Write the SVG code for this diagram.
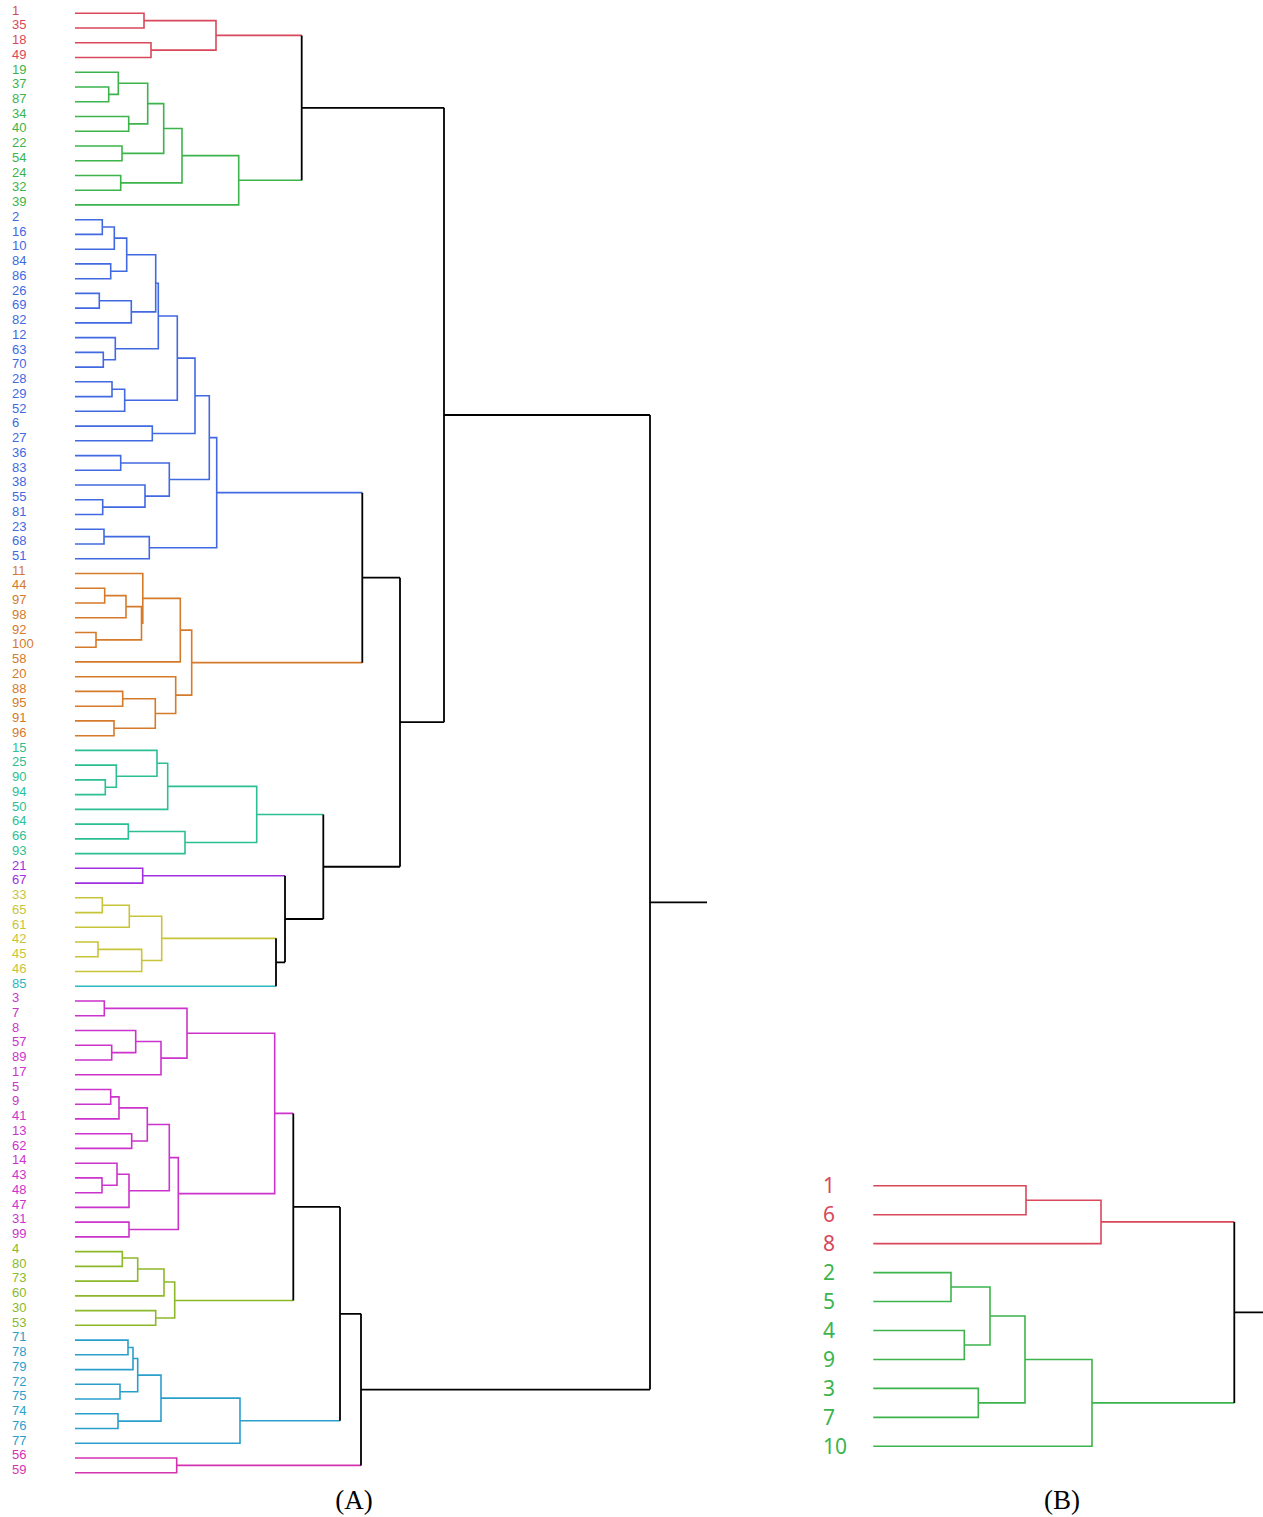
<svg xmlns="http://www.w3.org/2000/svg" width="1263" height="1517" viewBox="0 0 1263 1517">
<style>
.e{fill:none;stroke-width:1.6;stroke-linejoin:miter;stroke-linecap:butt}
.k{stroke:#000;stroke-width:1.8}
.t{font-family:"Liberation Sans",Arial,sans-serif;font-size:13px}
.tb{font-family:"Noto Sans","Open Sans","DejaVu Sans",sans-serif;font-size:21px}
.cap{font-family:"Liberation Serif","Times New Roman",serif;font-size:27px;fill:#000;text-anchor:middle}
.red{stroke:#d9475a}.fred{fill:#d9475a}
.grn{stroke:#3cb44b}.fgrn{fill:#3cb44b}
.blu{stroke:#4169e1}.fblu{fill:#4169e1}
.org{stroke:#d57a2a}.forg{fill:#d57a2a}
.tea{stroke:#2bbf93}.ftea{fill:#2bbf93}
.pur{stroke:#a030e0}.fpur{fill:#a030e0}
.yel{stroke:#c8c43a}.fyel{fill:#c8c43a}
.cya{stroke:#2bb8c0}.fcya{fill:#2bb8c0}
.mag{stroke:#cc33cc}.fmag{fill:#cc33cc}
.lim{stroke:#8db82a}.flim{fill:#8db82a}
.sky{stroke:#2a9fcc}.fsky{fill:#2a9fcc}
.pnk{stroke:#d433b0}.fpnk{fill:#d433b0}
</style>
<rect width="1263" height="1517" fill="#fff"/>
<g id="connectors">
<path class="e red" d="M75 13.3H144V28H75M75 42.8H151V57.5H75M144 20.67H216V50.16H151M216 35.41H301.7"/>
<path class="e grn" d="M75 87H108.7V101.8H75M75 72.3H118.3V94.38H108.7M75 116.5H128.7V131.2H75M118.3 83.32H147.7V123.87H128.7M75 146H122V160.7H75M147.7 103.59H163.7V153.35H122M75 175.5H120.7V190.2H75M163.7 128.47H182V182.83H120.7M182 155.65H238.7V204.9H75M238.7 180.3H301.7"/>
<path class="e blu" d="M75 219.7H102.3V234.4H75M102.3 227.06H114.3V249.2H75M75 263.9H110.7V278.7H75M114.3 238.12H126.7V271.29H110.7M75 293.4H99.3V308.1H75M99.3 300.77H131.3V322.9H75M126.7 254.7H155.7V311.83H131.3M75 352.4H103.3V367.1H75M75 337.6H115.3V359.74H103.3M155.7 283.26H158.3V348.68H115.3M75 381.8H112V396.6H75M112 389.22H124.7V411.3H75M158.3 315.97H177.3V400.28H124.7M75 426.1H152.3V440.8H75M177.3 358.12H195V433.45H152.3M75 455.6H120.7V470.3H75M75 499.8H102.7V514.5H75M75 485H145V507.16H102.7M120.7 462.93H169.3V496.1H145M195 395.78H209.3V479.52H169.3M75 529.3H104V544H75M104 536.64H149.3V558.8H75M209.3 437.65H216.7V547.7H149.3M216.7 492.67H362.3"/>
<path class="e org" d="M75 588.2H104.7V603H75M104.7 595.61H126V617.7H75M75 632.5H96V647.2H75M126 606.67H141.5V639.84H96M75 573.5H142.8V623.25H141.5M142.8 598.37H180.3V661.9H75M75 691.4H122.7V706.2H75M75 720.9H114V735.7H75M122.7 698.8H155.3V728.29H114M75 676.7H175.7V713.55H155.3M180.3 630.16H191.7V695.12H175.7M191.7 662.64H362.3"/>
<path class="e tea" d="M75 779.9H105.3V794.6H75M75 765.1H116.3V787.25H105.3M75 750.4H157V776.2H116.3M157 763.3H167.7V809.4H75M75 824.1H128.3V838.9H75M128.3 831.48H185V853.6H75M167.7 786.34H256.7V842.54H185M256.7 814.44H323.3"/>
<path class="e pur" d="M75 868.3H142.7V883.1H75M142.7 875.71H285"/>
<path class="e yel" d="M75 897.8H102.3V912.6H75M102.3 905.19H129.3V927.3H75M75 942H98V956.8H75M98 949.42H141.7V971.5H75M129.3 916.25H161.7V960.47H141.7M161.7 938.36H276"/>
<path class="e cya" d="M75 986.27H276"/>
<path class="e mag" d="M75 1001H104.3V1015.8H75M75 1045.2H111.7V1060H75M75 1030.5H135.7V1052.61H111.7M135.7 1041.55H161V1074.7H75M104.3 1008.39H187V1058.14H161M75 1089.5H110.7V1104.2H75M110.7 1096.84H119V1118.9H75M75 1133.7H131.7V1148.4H75M119 1107.89H147.3V1141.06H131.7M75 1177.9H102V1192.7H75M75 1163.2H117V1185.29H102M117 1174.23H129V1207.4H75M147.3 1124.48H169.3V1190.82H129M75 1222.1H129V1236.9H75M169.3 1157.65H178.3V1229.52H129M187 1033.26H274.7V1193.58H178.3M274.7 1113.42H293.3"/>
<path class="e lim" d="M75 1251.6H122.3V1266.4H75M122.3 1258H137.7V1281.1H75M137.7 1269.06H164V1295.9H75M75 1310.6H155.7V1325.3H75M164 1281.96H174.7V1317.97H155.7M174.7 1300.46H293.3"/>
<path class="e sky" d="M75 1340.1H128V1354.8H75M128 1347.45H133V1369.6H75M75 1384.3H120V1399H75M133 1358.51H137.7V1391.68H120M75 1413.8H118V1428.5H75M137.7 1375.09H161V1421.16H118M161 1398.13H240V1443.3H75M240 1420.7H340"/>
<path class="e pnk" d="M75 1458H176.7V1472.7H75M176.7 1465.39H361"/>
<path class="e k" d="M301.7 35.41V180.3M301.7 107.86H444M362.3 492.67V662.64M362.3 577.65H400M276 938.36V986.27M276 962.32H285M285 875.71V962.32M285 919.01H323.3M323.3 814.44V919.01M323.3 866.73H400M400 577.65V866.73M400 722.19H444M444 107.86V722.19M444 415.02H650M293.3 1113.42V1300.46M293.3 1206.94H340M340 1206.94V1420.7M340 1313.82H361M361 1313.82V1465.39M361 1389.6H650M650 415.02V1389.6M650 902.32H707"/>
<path class="e red" d="M873.3 1185.7H1026V1214.7H873.3M1026 1200.2H1101V1243.6H873.3M1101 1221.9H1234.3"/>
<path class="e grn" d="M873.3 1272.6H951V1301.5H873.3M873.3 1330.5H964.3V1359.5H873.3M951 1287.05H990V1345H964.3M873.3 1388.4H978.3V1417.4H873.3M990 1316H1025V1402.9H978.3M1025 1359.5H1092V1446.3H873.3M1092 1402.9H1234.3"/>
<path class="e k" d="M1234.3 1221.9V1402.9M1234.3 1312.4H1263"/>
</g>
<g id="a-1"><text class="t fred" x="12" y="14.5">1</text></g>
<g id="a-35"><text class="t fred" x="12" y="29.2">35</text></g>
<g id="a-18"><text class="t fred" x="12" y="44">18</text></g>
<g id="a-49"><text class="t fred" x="12" y="58.7">49</text></g>
<g id="a-19"><text class="t fgrn" x="12" y="73.5">19</text></g>
<g id="a-37"><text class="t fgrn" x="12" y="88.2">37</text></g>
<g id="a-87"><text class="t fgrn" x="12" y="103">87</text></g>
<g id="a-34"><text class="t fgrn" x="12" y="117.7">34</text></g>
<g id="a-40"><text class="t fgrn" x="12" y="132.4">40</text></g>
<g id="a-22"><text class="t fgrn" x="12" y="147.2">22</text></g>
<g id="a-54"><text class="t fgrn" x="12" y="161.9">54</text></g>
<g id="a-24"><text class="t fgrn" x="12" y="176.7">24</text></g>
<g id="a-32"><text class="t fgrn" x="12" y="191.4">32</text></g>
<g id="a-39"><text class="t fgrn" x="12" y="206.1">39</text></g>
<g id="a-2"><text class="t fblu" x="12" y="220.9">2</text></g>
<g id="a-16"><text class="t fblu" x="12" y="235.6">16</text></g>
<g id="a-10"><text class="t fblu" x="12" y="250.4">10</text></g>
<g id="a-84"><text class="t fblu" x="12" y="265.1">84</text></g>
<g id="a-86"><text class="t fblu" x="12" y="279.9">86</text></g>
<g id="a-26"><text class="t fblu" x="12" y="294.6">26</text></g>
<g id="a-69"><text class="t fblu" x="12" y="309.3">69</text></g>
<g id="a-82"><text class="t fblu" x="12" y="324.1">82</text></g>
<g id="a-12"><text class="t fblu" x="12" y="338.8">12</text></g>
<g id="a-63"><text class="t fblu" x="12" y="353.6">63</text></g>
<g id="a-70"><text class="t fblu" x="12" y="368.3">70</text></g>
<g id="a-28"><text class="t fblu" x="12" y="383">28</text></g>
<g id="a-29"><text class="t fblu" x="12" y="397.8">29</text></g>
<g id="a-52"><text class="t fblu" x="12" y="412.5">52</text></g>
<g id="a-6"><text class="t fblu" x="12" y="427.3">6</text></g>
<g id="a-27"><text class="t fblu" x="12" y="442">27</text></g>
<g id="a-36"><text class="t fblu" x="12" y="456.8">36</text></g>
<g id="a-83"><text class="t fblu" x="12" y="471.5">83</text></g>
<g id="a-38"><text class="t fblu" x="12" y="486.2">38</text></g>
<g id="a-55"><text class="t fblu" x="12" y="501">55</text></g>
<g id="a-81"><text class="t fblu" x="12" y="515.7">81</text></g>
<g id="a-23"><text class="t fblu" x="12" y="530.5">23</text></g>
<g id="a-68"><text class="t fblu" x="12" y="545.2">68</text></g>
<g id="a-51"><text class="t fblu" x="12" y="560">51</text></g>
<g id="a-11"><text class="t forg" x="12" y="574.7">11</text></g>
<g id="a-44"><text class="t forg" x="12" y="589.4">44</text></g>
<g id="a-97"><text class="t forg" x="12" y="604.2">97</text></g>
<g id="a-98"><text class="t forg" x="12" y="618.9">98</text></g>
<g id="a-92"><text class="t forg" x="12" y="633.7">92</text></g>
<g id="a-100"><text class="t forg" x="12" y="648.4">100</text></g>
<g id="a-58"><text class="t forg" x="12" y="663.1">58</text></g>
<g id="a-20"><text class="t forg" x="12" y="677.9">20</text></g>
<g id="a-88"><text class="t forg" x="12" y="692.6">88</text></g>
<g id="a-95"><text class="t forg" x="12" y="707.4">95</text></g>
<g id="a-91"><text class="t forg" x="12" y="722.1">91</text></g>
<g id="a-96"><text class="t forg" x="12" y="736.9">96</text></g>
<g id="a-15"><text class="t ftea" x="12" y="751.6">15</text></g>
<g id="a-25"><text class="t ftea" x="12" y="766.3">25</text></g>
<g id="a-90"><text class="t ftea" x="12" y="781.1">90</text></g>
<g id="a-94"><text class="t ftea" x="12" y="795.8">94</text></g>
<g id="a-50"><text class="t ftea" x="12" y="810.6">50</text></g>
<g id="a-64"><text class="t ftea" x="12" y="825.3">64</text></g>
<g id="a-66"><text class="t ftea" x="12" y="840.1">66</text></g>
<g id="a-93"><text class="t ftea" x="12" y="854.8">93</text></g>
<g id="a-21"><text class="t fpur" x="12" y="869.5">21</text></g>
<g id="a-67"><text class="t fpur" x="12" y="884.3">67</text></g>
<g id="a-33"><text class="t fyel" x="12" y="899">33</text></g>
<g id="a-65"><text class="t fyel" x="12" y="913.8">65</text></g>
<g id="a-61"><text class="t fyel" x="12" y="928.5">61</text></g>
<g id="a-42"><text class="t fyel" x="12" y="943.2">42</text></g>
<g id="a-45"><text class="t fyel" x="12" y="958">45</text></g>
<g id="a-46"><text class="t fyel" x="12" y="972.7">46</text></g>
<g id="a-85"><text class="t fcya" x="12" y="987.5">85</text></g>
<g id="a-3"><text class="t fmag" x="12" y="1002.2">3</text></g>
<g id="a-7"><text class="t fmag" x="12" y="1017">7</text></g>
<g id="a-8"><text class="t fmag" x="12" y="1031.7">8</text></g>
<g id="a-57"><text class="t fmag" x="12" y="1046.4">57</text></g>
<g id="a-89"><text class="t fmag" x="12" y="1061.2">89</text></g>
<g id="a-17"><text class="t fmag" x="12" y="1075.9">17</text></g>
<g id="a-5"><text class="t fmag" x="12" y="1090.7">5</text></g>
<g id="a-9"><text class="t fmag" x="12" y="1105.4">9</text></g>
<g id="a-41"><text class="t fmag" x="12" y="1120.1">41</text></g>
<g id="a-13"><text class="t fmag" x="12" y="1134.9">13</text></g>
<g id="a-62"><text class="t fmag" x="12" y="1149.6">62</text></g>
<g id="a-14"><text class="t fmag" x="12" y="1164.4">14</text></g>
<g id="a-43"><text class="t fmag" x="12" y="1179.1">43</text></g>
<g id="a-48"><text class="t fmag" x="12" y="1193.9">48</text></g>
<g id="a-47"><text class="t fmag" x="12" y="1208.6">47</text></g>
<g id="a-31"><text class="t fmag" x="12" y="1223.3">31</text></g>
<g id="a-99"><text class="t fmag" x="12" y="1238.1">99</text></g>
<g id="a-4"><text class="t flim" x="12" y="1252.8">4</text></g>
<g id="a-80"><text class="t flim" x="12" y="1267.6">80</text></g>
<g id="a-73"><text class="t flim" x="12" y="1282.3">73</text></g>
<g id="a-60"><text class="t flim" x="12" y="1297.1">60</text></g>
<g id="a-30"><text class="t flim" x="12" y="1311.8">30</text></g>
<g id="a-53"><text class="t flim" x="12" y="1326.5">53</text></g>
<g id="a-71"><text class="t fsky" x="12" y="1341.3">71</text></g>
<g id="a-78"><text class="t fsky" x="12" y="1356">78</text></g>
<g id="a-79"><text class="t fsky" x="12" y="1370.8">79</text></g>
<g id="a-72"><text class="t fsky" x="12" y="1385.5">72</text></g>
<g id="a-75"><text class="t fsky" x="12" y="1400.2">75</text></g>
<g id="a-74"><text class="t fsky" x="12" y="1415">74</text></g>
<g id="a-76"><text class="t fsky" x="12" y="1429.7">76</text></g>
<g id="a-77"><text class="t fsky" x="12" y="1444.5">77</text></g>
<g id="a-56"><text class="t fpnk" x="12" y="1459.2">56</text></g>
<g id="a-59"><text class="t fpnk" x="12" y="1473.9">59</text></g>
<g id="b-1"><text class="tb fred" x="823" y="1193">1</text></g>
<g id="b-6"><text class="tb fred" x="823" y="1222">6</text></g>
<g id="b-8"><text class="tb fred" x="823" y="1250.9">8</text></g>
<g id="b-2"><text class="tb fgrn" x="823" y="1279.9">2</text></g>
<g id="b-5"><text class="tb fgrn" x="823" y="1308.8">5</text></g>
<g id="b-4"><text class="tb fgrn" x="823" y="1337.8">4</text></g>
<g id="b-9"><text class="tb fgrn" x="823" y="1366.8">9</text></g>
<g id="b-3"><text class="tb fgrn" x="823" y="1395.7">3</text></g>
<g id="b-7"><text class="tb fgrn" x="823" y="1424.7">7</text></g>
<g id="b-10"><text class="tb fgrn" x="823" y="1453.6">10</text></g>
<g id="caption-a"><text class="cap" x="354" y="1509">(A)</text></g>
<g id="caption-b"><text class="cap" x="1062" y="1509">(B)</text></g>
</svg>
